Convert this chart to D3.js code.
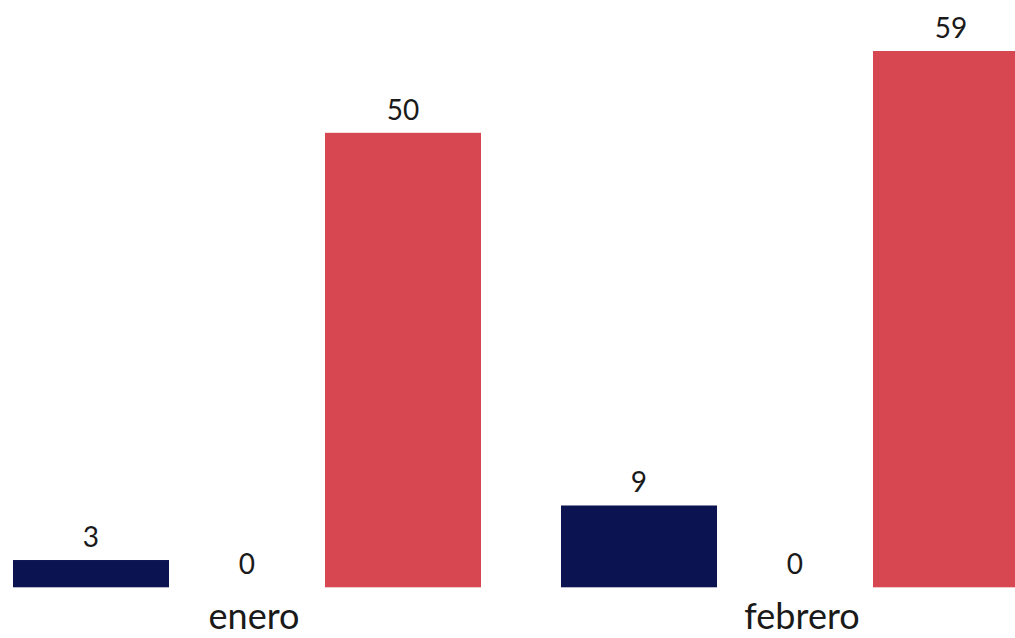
<!DOCTYPE html>
<html>
<head>
<meta charset="utf-8">
<script src="https://cdn.jsdelivr.net/npm/d3@7"></script>
<style>
  html, body { margin: 0; padding: 0; background: #fff; }
  svg { display: block; }
</style>
</head>
<body>
<svg id="chart" width="1015" height="638"></svg>
<script>
const categories = ["enero", "febrero"];
const seriesNames = ["serie1", "serie2", "serie3"];
const serie1 = [3, 9];
const serie2 = [0, 0];
const serie3 = [50, 59];
const colors = ["#0b1350", "#ffffff", "#d74751"];

const seriesValues = [serie1, serie2, serie3];
const data = categories.map((c, i) => ({
  cat: c,
  vals: seriesNames.map((s, j) => ({ key: s, idx: j, value: seriesValues[j][i] }))
}));

const svg = d3.select("#chart");
const font = "Lato, 'Open Sans', sans-serif";

const x0 = d3.scaleBand().domain(categories).range([13, 1029]).paddingInner(0.146).paddingOuter(0);
const x1 = d3.scaleBand().domain(seriesNames).range([0, x0.bandwidth()]).padding(0);
const y = d3.scaleLinear().domain([0, 59]).range([587.3, 51]);

const g = svg.selectAll("g.grp").data(data).join("g")
  .attr("class", "grp")
  .attr("transform", d => `translate(${x0(d.cat)},0)`);

g.selectAll("rect").data(d => d.vals).join("rect")
  .attr("x", d => x1(d.key))
  .attr("width", x1.bandwidth())
  .attr("y", d => y(d.value))
  .attr("height", d => y(0) - y(d.value))
  .attr("fill", d => colors[d.idx]);

g.selectAll("text.val").data(d => d.vals).join("text")
  .attr("class", "val")
  .attr("x", d => x1(d.key) + x1.bandwidth() / 2)
  .attr("y", d => y(d.value) - 13)
  .attr("text-anchor", "middle")
  .attr("font-family", font)
  .attr("font-size", 28)
  .attr("fill", "#1a1a1a")
  .text(d => d.value);

svg.selectAll("text.cat").data(categories).join("text")
  .attr("class", "cat")
  .attr("x", d => x0(d) + x0.bandwidth() / 2 + 7)
  .attr("y", 629)
  .attr("text-anchor", "middle")
  .attr("font-family", font)
  .attr("font-size", 36)
  .attr("fill", "#1a1a1a")
  .text(d => d);
</script>
</body>
</html>
